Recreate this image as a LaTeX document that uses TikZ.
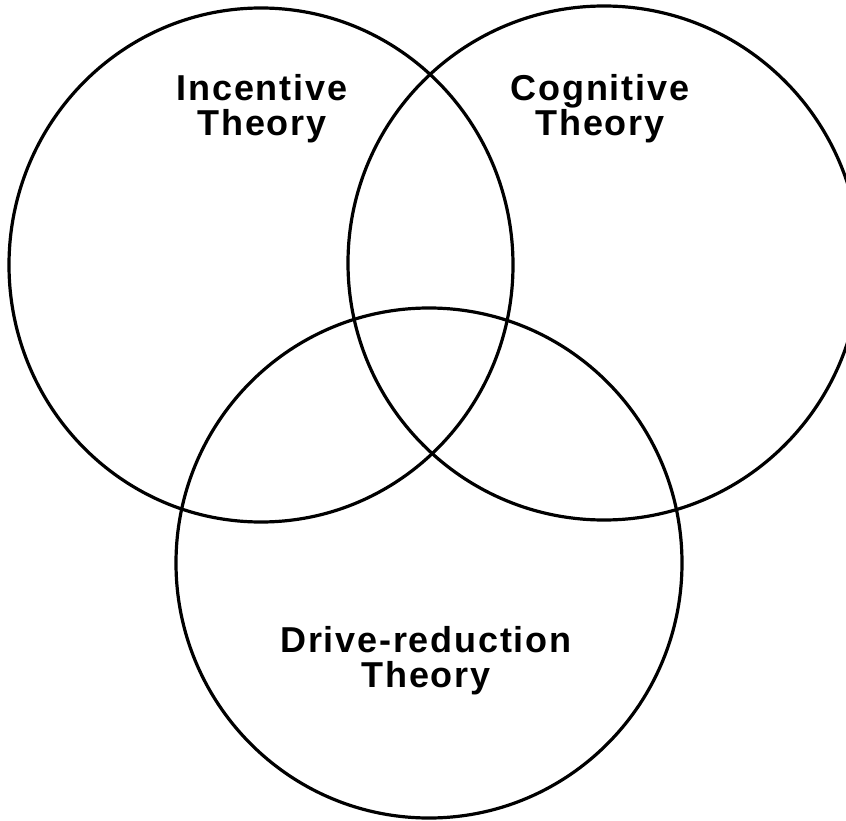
\documentclass[tikz,border=0pt]{standalone}
\usepackage{fontspec}
\setmainfont{Liberation Sans}
\newfontfamily\labelfont[LetterSpace=5]{Liberation Sans}
\begin{document}
\begin{tikzpicture}[x=1pt,y=-1pt,
  ring/.style={draw=black, line width=3.2pt},
  theory/.style={font=\labelfont\bfseries\fontsize{36}{35}\selectfont, align=center, inner sep=0pt}]
\useasboundingbox (0,0) rectangle (846,821);
% the three overlapping circles
\draw[ring] (261,265) ellipse [x radius=252pt, y radius=257pt];
\draw[ring] (604,263) ellipse [x radius=256pt, y radius=257pt];
\draw[ring] (429,563) ellipse [x radius=253pt, y radius=255pt];
% labels
\node[theory] (incentive) at (262,109) {Incentive\\Theory};
\node[theory] (cognitive) at (600,109) {Cognitive\\Theory};
\node[theory] (drive) at (426,661) {Drive-reduction\\Theory};
\end{tikzpicture}
\end{document}
